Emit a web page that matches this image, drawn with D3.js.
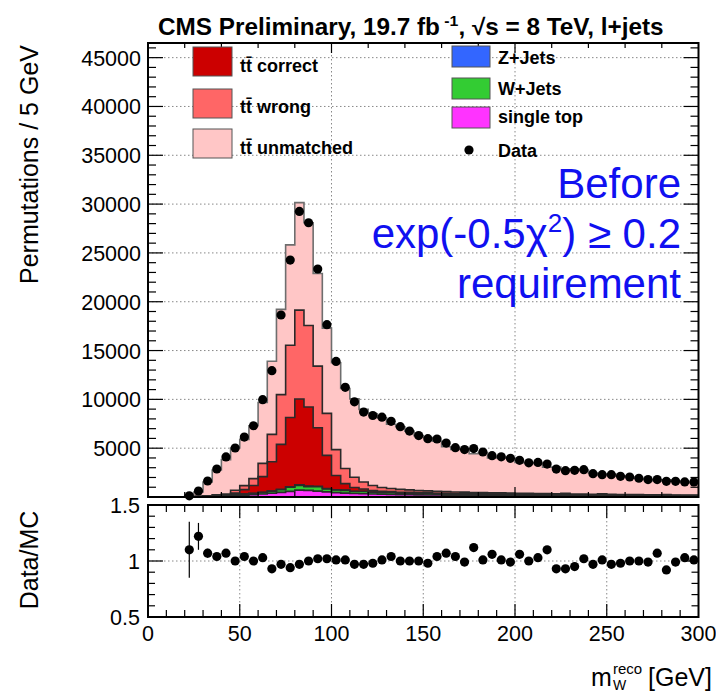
<!DOCTYPE html>
<html><head><meta charset="utf-8">
<script src="https://cdn.jsdelivr.net/npm/d3@7"></script>
<style>
body{margin:0;background:#fff}
svg{display:block}
text{font-family:"Liberation Sans",Arial,Helvetica,sans-serif;fill:#000}
</style>
</head><body>
<svg id="c" width="716" height="693"></svg>
<script>
// ---------------- DATA ----------------
// 5 GeV bins, lower edges 0..295
const binLow = d3.range(0, 300, 5);
const singleTop = [0,0,0,0, 10,25,50,80,110,150,190,240,300,380, 470,580,700,680,600,520,450,400,360,330, 300,280,260,245,230,220,210,200,190,180, 175,170,165,160,155,150,145,140,136,132, 128,124,120,116,112,108,105,102,99,96, 93,90,87,84,81,78];
const wJets = [0,0,0,0, 5,15,30,45,60,80,100,120,160,200, 280,420,480,380,450,300,260,280,200,230, 180,160,170,140,150,120,130,110,120,100, 110,95,100,90,95,85,90,80,85,75, 80,120,70,75,65,110,60,65,55,60, 55,50,90,50,45,45];
const zJets = [0,0,0,0, 2,5,8,10,12,15,20,25,30,35, 40,50,60,55,50,45,40,35,32,30, 28,27,26,25,24,23,22,21,20,20, 19,18,18,17,16,16,15,15,14,14, 13,13,12,12,12,11,11,11,10,10, 10,10,9,9,9,9];
const ttCorrect = [0,0,0,0, 0,5,15,30,50,150,450,800,1600,3000, 4600,7100,8800,8100,6000,3400,1450,650,380,230, 150,110,90,80,70,65,60,55,50,48, 45,43,41,40,38,36,35,34,33,32, 31,30,29,28,27,26,25,24,23,22, 21,20,19,18,17,16];
const ttWrong = [0,0,0,0, 5,15,30,50,80,300,400,700,1350,2800, 5100,7400,9100,8350,6300,4300,2650,1550,1050,720, 520,400,330,290,260,230,210,190,175,160, 150,140,130,120,115,110,105,100,95,90, 86,82,78,74,70,67,64,61,58,55, 52,50,48,46,44,42];
const ttUnmatched = [0,0,0,0, 114,440,1400,2545,3520,4325,4740,5415,6240,7495, 8730,10270,11010,10525,9490,8735,8900,8205,8028,7430, 7342,7123,6574,6420,6016,5632,5458,5134,4605,4352, 4411,3964,4106,3563,3651,3603,3160,3131,3077,2717, 2742,2531,2561,2445,2174,1948,2095,1897,1805,1677, 1569,1440,1497,1423,1304,1333];
const dataCounts = [null,null,null,null, 120,615,1640,2870,4100,5020,6140,7300,9970,12940, 18640,24270,29250,28090,23350,17650,13890,11230,9750,8700, 8350,8180,7750,7200,6750,6290,5970,5940,5520,5050, 4860,4960,4610,4230,4110,3960,3760,3500,3540,3370, 2860,2700,2730,2800,2390,2290,2290,2120,2050,1920, 1780,1780,1610,1610,1540,1540];
const ratio = [null,null,null,null, 1.10,1.22,1.07,1.04,1.07,1.00,1.04,1.00,1.03,0.93, 0.97,0.94,0.97,1.00,1.02,1.02,1.01,1.01,0.97,0.97, 0.98,1.01,1.04,1.00,1.00,1.00,0.98,1.04,1.07,1.04, 0.99,1.12,1.01,1.06,1.01,0.99,1.06,1.00,1.03,1.10, 0.93,0.93,0.95,1.02,0.97,1.01,0.97,0.98,1.00,1.00, 0.99,1.07,0.92,0.99,1.03,1.01];
const ratioErr = [0,0,0,0, 0.25,0.12,0.04,0.03,0.02,0.02,0.02,0.02,0.02,0.01, 0.01,0.01,0.01,0.01,0.01,0.01,0.01,0.01,0.01,0.01, 0.01,0.01,0.01,0.01,0.01,0.01,0.01,0.01,0.01,0.01, 0.01,0.01,0.01,0.01,0.01,0.01,0.01,0.01,0.01,0.01, 0.01,0.01,0.01,0.01,0.01,0.01,0.01,0.01,0.01,0.01, 0.01,0.01,0.01,0.01,0.01,0.01];

const mainYTicks = [5000,10000,15000,20000,25000,30000,35000,40000,45000];
const ratioXTicks = [0,50,100,150,200,250,300];
const ratioYTicks = [0.5,1,1.5];

const keys = ["singleTop","wJets","zJets","ttCorrect","ttWrong","ttUnmatched"];
const colors = {singleTop:"#ff33ff", wJets:"#33cc33", zJets:"#3366ff", ttCorrect:"#cc0000", ttWrong:"#ff6666", ttUnmatched:"#ffc6c6"};

// ---------------- LAYOUT ----------------
const L = 148, R = 698.5, MT = 43, MB = 497, RT = 505, RB = 617;
const svg = d3.select("#c");
const x = d3.scaleLinear().domain([0,300]).range([L,R]);
const y = d3.scaleLinear().domain([0,46500]).range([MB,MT]);
const yr = d3.scaleLinear().domain([0.5,1.5]).range([RB,RT]);

svg.append("rect").attr("width",716).attr("height",693).attr("fill","#fff");
const defs = svg.append("defs");
defs.append("clipPath").attr("id","cm").append("rect").attr("x",L).attr("y",MT).attr("width",R-L).attr("height",MB-MT);
defs.append("clipPath").attr("id","cr").append("rect").attr("x",L).attr("y",RT).attr("width",R-L).attr("height",RB-RT);

// grids (main)
const gm = svg.append("g").attr("clip-path","url(#cm)");
gm.selectAll("line.hg").data(mainYTicks).join("line")
  .attr("x1",L).attr("x2",R).attr("y1",d=>y(d)).attr("y2",d=>y(d))
  .attr("stroke","#888").attr("stroke-width",1).attr("stroke-dasharray","1.5,2.5");
gm.selectAll("line.vg").data([100,200]).join("line")
  .attr("y1",MT).attr("y2",MB).attr("x1",d=>x(d)).attr("x2",d=>x(d))
  .attr("stroke","#888").attr("stroke-width",1).attr("stroke-dasharray","1.5,2.5");

// stacked histogram
const rows = binLow.map((x0,i)=>({x0, singleTop:singleTop[i], wJets:wJets[i], zJets:zJets[i], ttCorrect:ttCorrect[i], ttWrong:ttWrong[i], ttUnmatched:ttUnmatched[i]}));
rows.push(Object.assign({}, rows[rows.length-1], {x0:300}));
const series = d3.stack().keys(keys)(rows);
const area = d3.area().x(d=>x(d.data.x0)).y0(d=>y(d[0])).y1(d=>y(d[1])).curve(d3.curveStepAfter);
const topLine = d3.line().x(d=>x(d.data.x0)).y(d=>y(d[1])).curve(d3.curveStepAfter);
series.forEach(s=>{
  gm.append("path").attr("d",area(s)).attr("fill",colors[s.key]);
});
series.forEach(s=>{
  gm.append("path").attr("d",topLine(s)).attr("fill","none")
    .attr("stroke", s.key==="ttUnmatched" ? "#6e6e6e" : "#2a2a2a").attr("stroke-width",1.6);
});

// data points
const pts = binLow.map((x0,i)=>({xc:x0+2.5, v:dataCounts[i], r:ratio[i], e:ratioErr[i]})).filter(d=>d.v!==null);
svg.append("g").selectAll("circle").data(pts).join("circle")
  .attr("cx",d=>x(d.xc)).attr("cy",d=>y(d.v)).attr("r",4.6).attr("fill","#000");

// ticks helper
function tk(g, vals, pos, len, orient){
  vals.forEach(v=>{
    const p = pos(v);
    let a;
    if(orient==="left") a=[L,p,L+len,p];
    if(orient==="right") a=[R,p,R-len,p];
    g.append("line").attr("x1",a[0]).attr("y1",a[1]).attr("x2",a[2]).attr("y2",a[3]).attr("stroke","#000").attr("stroke-width",1.2);
  });
}
function tkx(g, vals, len, top, bottom){
  vals.forEach(v=>{
    const p = x(v);
    g.append("line").attr("x1",p).attr("x2",p).attr("y1",top).attr("y2",top+len).attr("stroke","#000").attr("stroke-width",1.2);
    g.append("line").attr("x1",p).attr("x2",p).attr("y1",bottom).attr("y2",bottom-len).attr("stroke","#000").attr("stroke-width",1.2);
  });
}
const axg = svg.append("g");
const minorMain = d3.range(1000,46001,1000).filter(v=>v%5000!==0);
tk(axg, minorMain, y, 8, "left"); tk(axg, minorMain, y, 8, "right");
tk(axg, mainYTicks, y, 15, "left"); tk(axg, mainYTicks, y, 15, "right");
tkx(axg, d3.range(20,300,20).filter(v=>v%100!==0), 5, MT, MB);
tkx(axg, [100,200], 10, MT, MB);

// main frame
svg.append("rect").attr("x",L).attr("y",MT).attr("width",R-L).attr("height",MB-MT).attr("fill","none").attr("stroke","#000").attr("stroke-width",2);

// main y labels
svg.append("g").selectAll("text").data(mainYTicks).join("text")
  .attr("x",141).attr("y",d=>y(d)+8).attr("text-anchor","end").attr("font-size",21.5).text(d=>d);

// ---------------- RATIO PANEL ----------------
const gr = svg.append("g").attr("clip-path","url(#cr)");
gr.selectAll("line.vg").data([50,100,150,200,250]).join("line")
  .attr("y1",RT).attr("y2",RB).attr("x1",d=>x(d)).attr("x2",d=>x(d))
  .attr("stroke","#888").attr("stroke-width",1).attr("stroke-dasharray","1.5,2.5");
gr.append("line").attr("x1",L).attr("x2",R).attr("y1",yr(1)).attr("y2",yr(1))
  .attr("stroke","#888").attr("stroke-width",1).attr("stroke-dasharray","1.5,2.5");
const rag = svg.append("g");
tkx(rag, d3.range(10,300,10).filter(v=>v%50!==0), 7, RT, RB);
tkx(rag, [50,100,150,200,250], 13, RT, RB);
tk(rag, [0.6,0.7,0.8,0.9,1.1,1.2,1.3,1.4], yr, 7, "left");
tk(rag, [0.6,0.7,0.8,0.9,1.1,1.2,1.3,1.4], yr, 7, "right");
tk(rag, [1], yr, 15, "left"); tk(rag, [1], yr, 15, "right");
gr.selectAll("line.err").data(pts).join("line")
  .attr("x1",d=>x(d.xc)).attr("x2",d=>x(d.xc)).attr("y1",d=>yr(d.r-d.e)).attr("y2",d=>yr(d.r+d.e))
  .attr("stroke","#000").attr("stroke-width",1.2);
gr.selectAll("circle").data(pts).join("circle")
  .attr("cx",d=>x(d.xc)).attr("cy",d=>yr(d.r)).attr("r",4.6).attr("fill","#000");
svg.append("rect").attr("x",L).attr("y",RT).attr("width",R-L).attr("height",RB-RT).attr("fill","none").attr("stroke","#000").attr("stroke-width",2);

svg.append("g").selectAll("text").data(ratioYTicks).join("text")
  .attr("x",140).attr("y",d=>yr(d)+8).attr("text-anchor","end").attr("font-size",21.5).text(d=>d);
svg.append("g").selectAll("text").data(ratioXTicks).join("text")
  .attr("x",d=>x(d)).attr("y",641).attr("text-anchor","middle").attr("font-size",21.5).text(d=>d);

// ---------------- AXIS TITLES ----------------
svg.append("text").attr("transform","translate(38,45) rotate(-90)").attr("text-anchor","end")
  .attr("font-size",25).text("Permutations / 5 GeV");
svg.append("text").attr("transform","translate(38,560) rotate(-90)").attr("text-anchor","middle")
  .attr("font-size",25).text("Data/MC");

const gev = svg.append("text").attr("x",712).attr("y",686).attr("text-anchor","end").attr("font-size",25).text("[GeV]");
const gw = gev.node().getComputedTextLength();
const xs = 712 - gw - 6;
const reco = svg.append("text").attr("x",xs).attr("y",674).attr("text-anchor","end").attr("font-size",15).text("reco");
const rw = reco.node().getComputedTextLength();
svg.append("text").attr("x",xs-rw).attr("y",690).attr("font-size",14).text("W");
svg.append("text").attr("x",xs-rw-1).attr("y",686).attr("text-anchor","end").attr("font-size",25).text("m");

// ---------------- TITLE ----------------
const title = svg.append("text").attr("x",158).attr("y",35).attr("font-weight","bold").attr("font-size",23);
title.append("tspan").text("CMS Preliminary, 19.7 fb");
title.append("tspan").attr("dy",-9).attr("font-size",15).text(" -1");
title.append("tspan").attr("dy",9).text(",  \u221As = 8 TeV, l+jets");
const tw = title.node().getComputedTextLength();
title.attr("transform",`translate(158,0) scale(${506/tw},1) translate(-158,0)`);

// ---------------- LEGEND ----------------
const leg = svg.append("g");
const legL = [["ttCorrect","tt\u0304 correct",47,72],["ttWrong","tt\u0304 wrong",89,113],["ttUnmatched","tt\u0304 unmatched",129,154]];
legL.forEach(([k,t,yy,yb])=>{
  leg.append("rect").attr("x",193).attr("y",yy).attr("width",39).attr("height",29).attr("fill",colors[k]).attr("stroke","#555").attr("stroke-width",1);
  leg.append("text").attr("x",240).attr("y",yb).attr("font-size",18).attr("font-weight","bold").text(t);
});
const legR = [["zJets","Z+Jets",46,64],["wJets","W+Jets",78,95],["singleTop","single top",107,123]];
legR.forEach(([k,t,yy,yb])=>{
  leg.append("rect").attr("x",452).attr("y",yy).attr("width",38).attr("height",21).attr("fill",colors[k]).attr("stroke","#555").attr("stroke-width",1);
  leg.append("text").attr("x",498).attr("y",yb).attr("font-size",18).attr("font-weight","bold").text(t);
});
leg.append("circle").attr("cx",469).attr("cy",150).attr("r",4.6).attr("fill","#000");
leg.append("text").attr("x",498).attr("y",157).attr("font-size",18).attr("font-weight","bold").text("Data");

// ---------------- BLUE ANNOTATION ----------------
const blue = "#1010f0";
svg.append("text").attr("x",681).attr("y",198).attr("text-anchor","end").attr("font-size",42).style("fill",blue).text("Before");
const ex = svg.append("text").attr("x",681).attr("y",248).attr("text-anchor","end").attr("font-size",42).style("fill",blue);
ex.append("tspan").text("exp(-0.5\u03C7");
ex.append("tspan").attr("dy",-16).attr("font-size",26).text("2");
ex.append("tspan").attr("dy",16).text(") \u2265 0.2");
svg.append("text").attr("x",681).attr("y",298).attr("text-anchor","end").attr("font-size",42).style("fill",blue).text("requirement");
</script>
</body></html>
